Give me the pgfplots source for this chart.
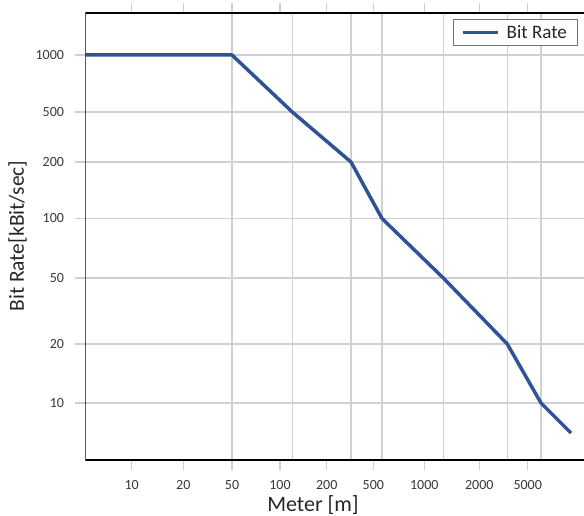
\documentclass[border=0pt]{standalone}
\usepackage{fontspec}
\setmainfont{Carlito}
\usepackage{pgfplots}
\pgfplotsset{compat=1.18}
\definecolor{lineblue}{RGB}{46,84,150}
\definecolor{gridgray}{RGB}{208,208,208}
\newcommand\tk[1]{{\fontsize{14}{16}\selectfont #1}}
\begin{document}
\begin{tikzpicture}
\begin{axis}[
  scale only axis,
  width=498.5pt, height=447pt,
  xmin=85.5, xmax=584, ymin=13, ymax=460,
  y dir=reverse,
  axis line style={draw=none},
  /pgf/number format/assume math mode=true,
  tick align=outside,
  major tick length=10pt,
  tick style={gridgray, line width=1.1pt},
  xtick={131.7,183.3,232,280,326.7,373.3,424.3,479.3,527.7},
  xticklabels={\tk{10},\tk{20},\tk{50},\tk{100},\tk{200},\tk{500},\tk{1000},\tk{2000},\tk{5000}},
  extra x ticks={232,292.3,351,382,443.3,507.3,541},
  extra x tick labels={},
  extra x tick style={grid=major, major tick length=0pt},
  ytick={55,112,162,218.5,278,344,403},
  yticklabels={\tk{1000},\tk{500},\tk{200},\tk{100},\tk{50},\tk{20},\tk{10}},
  ymajorgrids=true,
  major grid style={gridgray, line width=1.1pt},
  tick label style={text=black!78},
  xticklabel style={yshift=-7pt},
  yticklabel style={xshift=-8pt},
  xlabel={Meter [m]},
  ylabel={Bit Rate[kBit/sec]},
  xlabel style={font=\fontsize{22}{26}\selectfont, text=black!85, at={(axis cs:313,511)}, anchor=base},
  ylabel style={font=\fontsize{21.5}{26}\selectfont, text=black!85, at={(axis cs:17.5,236)}, anchor=center, rotate=0},
  legend style={at={(axis cs:577.3,19.3)}, anchor=north east, draw=black!55, line width=0.8pt,
    font=\fontsize{19}{22}\selectfont, text=black!85, inner xsep=8pt, inner ysep=3.7pt},
  legend image code/.code={\draw[#1] (0pt,0pt) -- (35pt,0pt); \path (40pt,0pt);},
]
\addplot[lineblue, line width=3.5pt, line join=round] coordinates {
  (86,55) (232,55) (292.3,112) (351,162) (382,218.5) (443.3,278) (507.3,344) (541,403) (571,433)
};
\addlegendentry{Bit Rate}
\draw[black, line width=1.4pt] (rel axis cs:1,1) -- (rel axis cs:0,1) -- (rel axis cs:0,0) -- (rel axis cs:1,0);
\coordinate (bl) at (axis cs:0,516);
\coordinate (tr) at (axis cs:584,0);
\end{axis}
\pgfresetboundingbox
\path (bl) rectangle (tr);
\end{tikzpicture}
\end{document}
